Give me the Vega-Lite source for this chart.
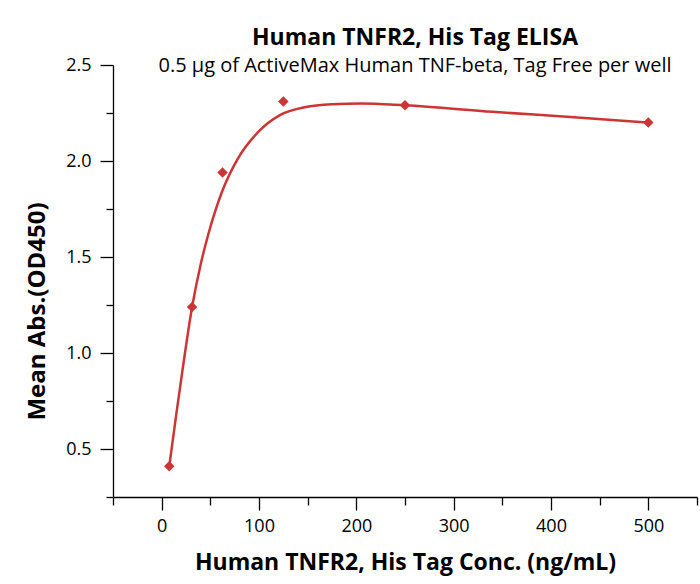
{
  "$schema": "https://vega.github.io/schema/vega-lite/v6.json",
  "autosize": {"type": "none"},
  "padding": {"left": 113, "top": 65, "right": 3, "bottom": 87},
  "width": 584,
  "height": 432,
  "background": "white",
  "config": {"view": {"stroke": null}, "font": "Open Sans"},
  "title": {
    "text": "Human TNFR2, His Tag ELISA",
    "subtitle": "0.5 µg of ActiveMax Human TNF-beta, Tag Free per well",
    "anchor": "middle",
    "font": "Open Sans",
    "fontSize": 23,
    "fontWeight": "bold",
    "color": "black",
    "subtitleFont": "Open Sans",
    "subtitleFontSize": 20,
    "subtitleColor": "black",
    "subtitlePadding": 6,
    "offset": -20,
    "dx": 10
  },
  "datasets": {
    "points": [
      {"conc": 7.8, "abs": 0.41},
      {"conc": 31.25, "abs": 1.24},
      {"conc": 62.5, "abs": 1.94},
      {"conc": 125, "abs": 2.31},
      {"conc": 250, "abs": 2.29},
      {"conc": 500, "abs": 2.2}
    ],
    "curve": [
      {"conc": 7.8, "abs": 0.41},
      {"conc": 15, "abs": 0.68},
      {"conc": 20, "abs": 0.86},
      {"conc": 31.25, "abs": 1.24},
      {"conc": 40, "abs": 1.46},
      {"conc": 48, "abs": 1.62},
      {"conc": 62, "abs": 1.84},
      {"conc": 78, "abs": 2.01},
      {"conc": 99, "abs": 2.15},
      {"conc": 122, "abs": 2.24},
      {"conc": 147, "abs": 2.28},
      {"conc": 175, "abs": 2.296},
      {"conc": 205, "abs": 2.3},
      {"conc": 250, "abs": 2.29},
      {"conc": 340, "abs": 2.256},
      {"conc": 420, "abs": 2.229},
      {"conc": 500, "abs": 2.2}
    ]
  },
  "encoding": {
    "x": {
      "field": "conc",
      "type": "quantitative",
      "scale": {"domain": [-50, 550], "nice": false, "zero": false},
      "axis": {
        "title": "Human TNFR2, His Tag Conc. (ng/mL)",
        "titleFont": "Open Sans",
        "titleFontSize": 23,
        "titleFontWeight": "bold",
        "titleColor": "black",
        "titlePadding": 16,
        "values": [-50, 0, 50, 100, 150, 200, 250, 300, 350, 400, 450, 500, 550],
        "labelExpr": "datum.value % 100 === 0 ? datum.label : ''",
        "labelFont": "Open Sans",
        "labelFontSize": 18,
        "labelColor": "black",
        "labelPadding": 7,
        "tickSize": {"condition": {"test": "datum.value % 100 === 0", "value": 13}, "value": 8},
        "tickColor": "black",
        "tickWidth": 1.3,
        "domainColor": "black",
        "domainWidth": 1.3,
        "grid": false,
        "labelFlush": false
      }
    },
    "y": {
      "field": "abs",
      "type": "quantitative",
      "scale": {"domain": [0.25, 2.5], "nice": false, "zero": false},
      "axis": {
        "title": "Mean Abs.(OD450)",
        "titleFont": "Open Sans",
        "titleFontSize": 24,
        "titleFontWeight": "bold",
        "titleColor": "black",
        "titlePadding": 16,
        "titleY": 246,
        "values": [0.25, 0.5, 0.75, 1, 1.25, 1.5, 1.75, 2, 2.25, 2.5],
        "format": ".1f",
        "labelExpr": "(datum.value * 2) % 1 === 0 ? datum.label : ''",
        "labelFont": "Open Sans",
        "labelFontSize": 18,
        "labelColor": "black",
        "labelPadding": 9,
        "tickSize": {"condition": {"test": "(datum.value * 2) % 1 === 0", "value": 13}, "value": 7},
        "tickColor": "black",
        "tickWidth": 1.3,
        "domainColor": "black",
        "domainWidth": 1.3,
        "grid": false,
        "labelFlush": false
      }
    }
  },
  "layer": [
    {
      "data": {"name": "curve"},
      "mark": {"type": "line", "interpolate": "monotone", "color": "#CD3535", "strokeWidth": 2.5}
    },
    {
      "data": {"name": "points"},
      "mark": {"type": "point", "shape": "diamond", "filled": true, "color": "#CD3535", "opacity": 1, "size": 110}
    }
  ]
}
